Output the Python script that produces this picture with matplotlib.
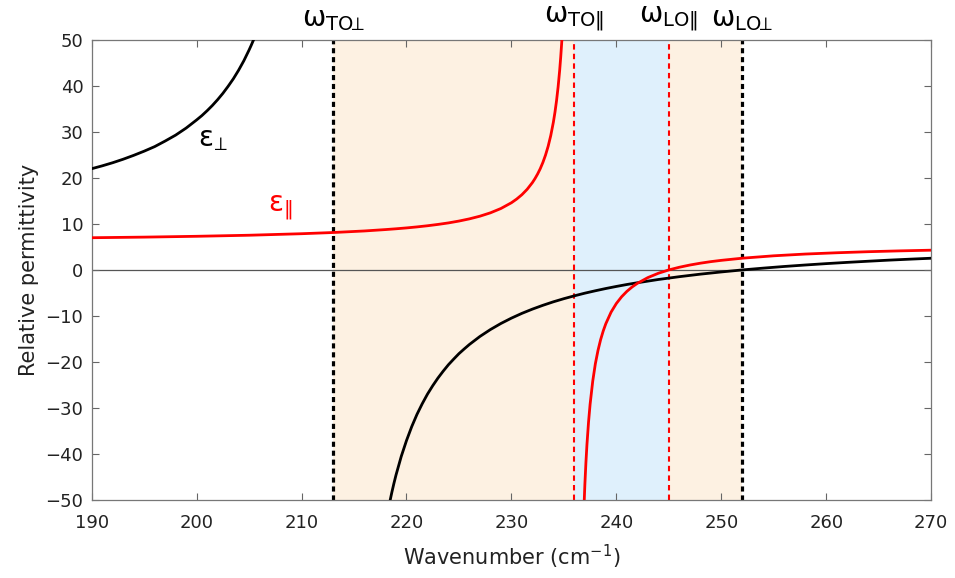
import matplotlib
matplotlib.use("Agg")
import matplotlib.pyplot as plt

# values (wavenumber in cm^-1, permittivity)
perp_lo_x = [190, 191, 192, 193, 194, 195, 196, 197, 198, 199, 200, 200.5, 201, 201.5,
             202, 202.5, 203, 203.5, 204, 204.5, 205, 205.2, 205.5]
perp_lo_y = [22.0, 22.62, 23.3, 24.06, 24.9, 25.81, 26.8, 28.01, 29.3, 30.83, 32.6,
             33.54, 34.6, 35.74, 37.0, 38.37, 39.9, 41.54, 43.4, 45.46, 47.8, 48.8, 50.4]

perp_hi_x = [218.3, 218.6, 218.8, 219, 219.5, 220, 220.5, 221, 221.5, 222, 222.5, 223,
             223.5, 224, 224.5, 225, 225.5, 226, 227, 228, 229, 230, 231, 232, 233,
             234, 235, 236, 237, 238, 239, 240, 241, 242, 244, 246, 248, 250, 252,
             254, 256, 258, 260, 262, 264, 266, 268, 270]
perp_hi_y = [-51.6, -48.4, -46.43, -44.6, -40.55, -37.1, -34.06, -31.4, -29.09, -27.0,
             -25.17, -23.5, -22.0, -20.6, -19.38, -18.2, -17.18, -16.2, -14.46, -12.96,
             -11.64, -10.48, -9.44, -8.52, -7.69, -6.93, -6.25, -5.63, -5.05, -4.53,
             -4.04, -3.59, -3.17, -2.79, -2.08, -1.47, -0.92, -0.44, 0.0, 0.39, 0.75,
             1.07, 1.37, 1.64, 1.89, 2.13, 2.34, 2.54]

par_lo_x = [190, 195, 200, 205, 210, 213, 216, 218, 219, 220, 221, 222, 223, 224, 225,
            226, 227, 228, 229, 230, 230.5, 231, 231.5, 232, 232.25, 232.5, 232.75,
            233, 233.25, 233.5, 233.75, 234, 234.15, 234.3, 234.45, 234.6, 234.7,
            234.8, 234.9]
par_lo_y = [7.0, 7.13, 7.31, 7.54, 7.87, 8.13, 8.47, 8.77, 8.94, 9.13, 9.35, 9.60, 9.89,
            10.22, 10.62, 11.10, 11.68, 12.41, 13.35, 14.60, 15.40, 16.35, 17.52, 18.98,
            19.86, 20.86, 22.01, 23.36, 24.95, 26.86, 29.2, 32.12, 34.25, 36.76, 39.75,
            43.38, 46.27, 49.6, 53.6]

par_hi_x = [236.7, 236.75, 236.8, 236.9, 237, 237.1, 237.2, 237.35, 237.5, 237.75, 238,
            238.25, 238.5, 238.75, 239, 239.5, 240, 240.5, 241, 241.5, 242, 243, 244,
            245, 246, 247, 248, 249, 250, 252, 255, 258, 261, 264, 267, 270]
par_hi_y = [-69.2, -64.23, -59.9, -52.55, -46.7, -41.94, -37.95, -33.09, -29.2, -24.19,
            -20.4, -17.52, -15.18, -13.27, -11.68, -9.17, -7.30, -5.84, -4.67, -3.71,
            -2.92, -1.67, -0.73, 0.0, 0.58, 1.06, 1.46, 1.80, 2.08, 2.55, 3.07, 3.45,
            3.73, 3.96, 4.14, 4.29]

w_to_perp, w_lo_perp = 213, 252
w_to_par, w_lo_par = 236, 245

fig, ax = plt.subplots(figsize=(9.55, 5.78), dpi=100)
fig.subplots_adjust(left=0.096, right=0.975, bottom=0.135, top=0.931)

ax.axvspan(w_to_perp, w_lo_perp, color="#fdf1e2", lw=0, zorder=0)
ax.axvspan(w_to_par, w_lo_par, color="#dff0fc", lw=0, zorder=0)
ax.axhline(0, color="#555555", lw=0.9, zorder=1)

for xv in (w_to_perp, w_lo_perp):
    ax.axvline(xv, color="black", lw=2.3, ls=(0, (1.6, 1.2)), zorder=2)
for xv in (w_to_par, w_lo_par):
    ax.axvline(xv, color="red", lw=1.5, ls=(0, (2.6, 2.0)), zorder=2)

ax.plot(perp_lo_x, perp_lo_y, color="black", lw=2, zorder=3)
ax.plot(perp_hi_x, perp_hi_y, color="black", lw=2, zorder=3)
ax.plot(par_lo_x, par_lo_y, color="red", lw=2, zorder=3)
ax.plot(par_hi_x, par_hi_y, color="red", lw=2, zorder=3)

ax.set_xlim(190, 270)
ax.set_ylim(-50, 50)
ax.set_xticks(range(190, 271, 10))
ax.set_yticks(range(-50, 51, 10))
ax.tick_params(direction="in", top=True, right=True, length=5, width=0.8,
               color="#666666", labelsize=13, labelcolor="#222222")
ax.tick_params(axis="x", pad=10)
ax.tick_params(axis="y", pad=6)
for s in ax.spines.values():
    s.set_color("#777777")
    s.set_linewidth(0.9)

ax.set_xlabel("Wavenumber (cm$^{-1}$)", fontsize=15, color="#222222", labelpad=8)
ax.set_ylabel("Relative permittivity", fontsize=15, color="#222222", labelpad=5)

ax.text(201.6, 28.5, r"$\mathregular{\epsilon_{\!\perp}}$", fontsize=20, color="black",
        ha="center", va="center")
ax.text(208.0, 13.5, r"$\mathregular{\epsilon_{\Vert}}$", fontsize=20, color="red",
        ha="center", va="center")

labels = [(w_to_perp, r"$\mathregular{\omega_{TO\!\!\perp}}$"),
          (w_to_par, r"$\mathregular{\omega_{TO\Vert}}$"),
          (w_lo_par, r"$\mathregular{\omega_{LO\Vert}}$"),
          (w_lo_perp, r"$\mathregular{\omega_{LO\!\!\perp}}$")]
for xv, lab in labels:
    ax.text(xv, 51.5, lab, fontsize=20, color="black", ha="center", va="bottom")

fig.savefig("out.png", dpi=100)
